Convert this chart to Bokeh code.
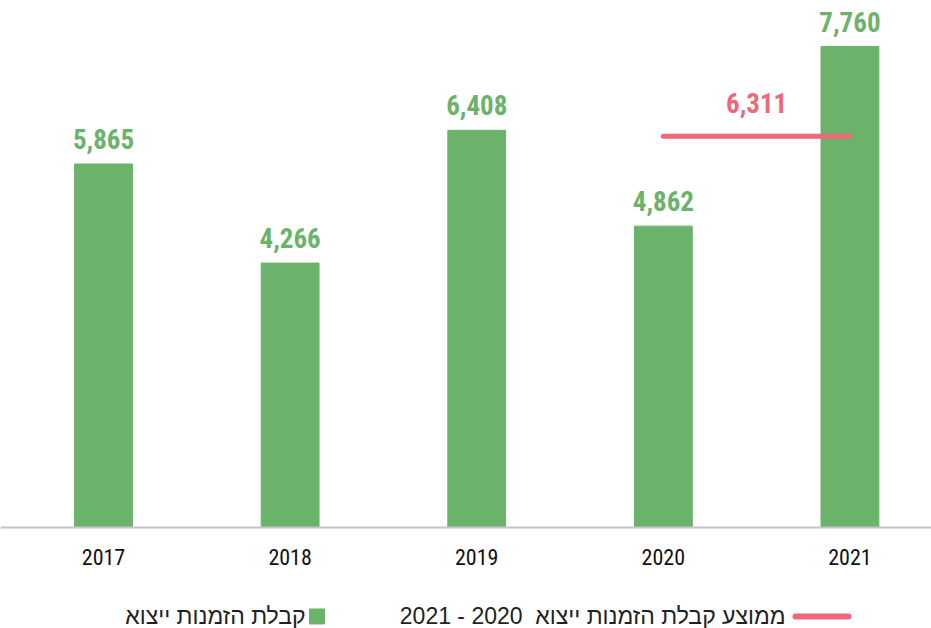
from bokeh.plotting import figure
from bokeh.models import Range1d, FixedTicker, ColumnDataSource
from bokeh.core.properties import value
from bokeh.embed import file_html
from bokeh.resources import INLINE

years = ["2017", "2018", "2019", "2020", "2021"]
orders = [5865, 4266, 6408, 4862, 7760]
avg_years = [3, 4]  # 2020 - 2021
avg_value = [6311, 6311]
legend_bar = "קבלת הזמנות ייצוא"
legend_avg = "2021 - 2020\u00a0\u00a0ממוצע קבלת הזמנות ייצוא"

GREEN = "#6bb36b"
RED = "#f0667a"
NUM_FONT = "'Roboto Condensed', 'DejaVu Sans Condensed', 'Liberation Sans Narrow', Roboto"
HEB_FONT = "Liberation Sans"

xs = list(range(len(years)))
src = ColumnDataSource(dict(x=xs, y=orders, lbl=[f"{v:,}" for v in orders]))

p = figure(width=931, height=628, output_backend="svg", toolbar_location=None,
           x_range=Range1d(-0.552, 4.437), y_range=Range1d(-1630, 8503),
           min_border=0, y_axis_location=None)
p.outline_line_color = None
p.grid.visible = False
p.background_fill_color = "white"

p.vbar(x="x", top="y", width=0.31, bottom=0, source=src, color=GREEN)
p.text(x="x", y="y", text="lbl", source=src, text_align="center",
       text_baseline="alphabetic", y_offset=-25, text_color=GREEN,
       text_font=value(NUM_FONT), text_font_style="bold", text_font_size="27px")

# average line 2020-2021
p.line(x=avg_years, y=avg_value, line_color=RED, line_width=5, line_cap="round")
p.text(x=[sum(avg_years) / 2], y=[avg_value[0]], text=[f"{avg_value[0]:,}"],
       text_align="center", text_baseline="alphabetic", y_offset=-33,
       text_color=RED, text_font=value(NUM_FONT), text_font_style="bold",
       text_font_size="27px")

ax = p.xaxis[0]
ax.fixed_location = 0
ax.ticker = FixedTicker(ticks=xs)
ax.major_label_overrides = {i: y for i, y in enumerate(years)}
ax.axis_line_color = "#c4c4cc"
ax.axis_line_width = 2
ax.major_tick_line_color = None
ax.minor_tick_line_color = None
ax.major_label_standoff = 16
ax.major_label_text_font = NUM_FONT
ax.major_label_text_font_style = "normal"
ax.major_label_text_font_size = "22px"
ax.major_label_text_color = "#111111"

# legend (drawn manually, right-to-left)
leg_y = -1436
p.scatter(x=[1.144], y=[leg_y], marker="square", size=15, color=GREEN)
p.text(x=[1.083], y=[leg_y], text=[legend_bar], text_align="right",
       text_baseline="middle", text_color="#222222",
       text_font=value(HEB_FONT), text_font_size="23px")
p.line(x=[3.708, 3.992], y=[leg_y, leg_y], line_color=RED, line_width=6,
       line_cap="round")
p.text(x=[3.655], y=[leg_y], text=[legend_avg], text_align="right",
       text_baseline="middle", text_color="#222222",
       text_font=value(HEB_FONT), text_font_size="23px")

open("out.html", "w").write(file_html(p, INLINE))
